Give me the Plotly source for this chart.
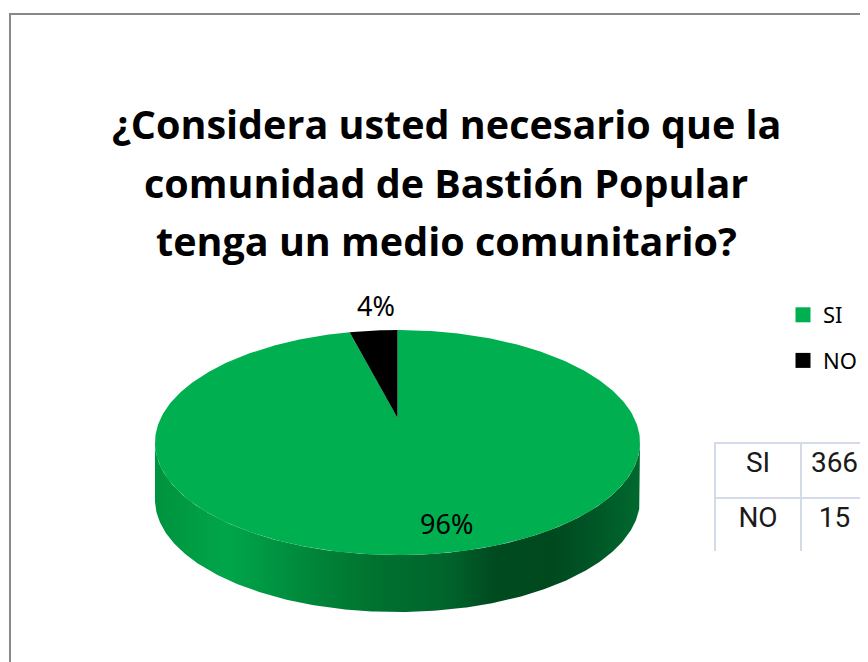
import numpy as np
import plotly.graph_objects as go

# ---- data ----
categories = ["SI", "NO"]
counts = [366, 15]
pct_labels = ["96%", "4%"]
slice_colors = ["#00b050", "#000000"]
title_lines = ["¿Considera usted necesario que la",
               "comunidad de Bastión Popular",
               "tenga un medio comunitario?"]

# page body margin offset: figure drawn at (8,8) in the window
OFF = 8
W, H = 860, 654


def px_x(sx):
    return (sx - OFF) / W


def px_y(sy):
    return 1 - (sy - OFF) / H


# ---- pie geometry (screen pixel space, simple perspective) ----
cx, cy0 = 397.5, 418.0   # centre of the disc (apex of slices)
A, B = 107.2, 236.7      # vertical / horizontal radii factors
k = 0.218                # perspective strength
depth = 57


def proj(t):
    u, v = np.cos(t), np.sin(t)
    d = 1 + k * v
    return cx + B * u / d, cy0 - A * v / d


vals = np.array(counts, dtype=float)
frac = vals / vals.sum()

fig = go.Figure()

# side band (visible front part)
t1, t2 = np.pi + np.arcsin(k), 2 * np.pi - np.arcsin(k)
t = np.linspace(t1, t2, 240)
rxs, rys = proj(t)
sx = np.concatenate([rxs, rxs[::-1]])
sy = np.concatenate([rys, (rys + depth)[::-1]])
fig.add_trace(go.Scatter(
    x=sx, y=sy, mode="lines", fill="toself", line=dict(width=0),
    fillgradient=dict(type="horizontal", colorscale=[
        [0.0, "#00923e"], [0.15, "#00a64a"], [0.30, "#008a3c"],
        [0.45, "#00722f"], [0.60, "#00652c"], [0.70, "#004a20"],
        [0.82, "#00491f"], [0.90, "#005526"], [1.0, "#00692e"]]),
    showlegend=False, hoverinfo="skip"))

# top slices: first slice starts at 12 o'clock, clockwise
start = np.pi / 2
for name, f, col in zip(categories, frac, slice_colors):
    a0, a1 = start, start - 2 * np.pi * f
    tt = np.linspace(a0, a1, max(10, int(400 * f)))
    ax, ay = proj(tt)
    px = np.concatenate([[cx], ax, [cx]])
    py = np.concatenate([[cy0], ay, [cy0]])
    fig.add_trace(go.Scatter(x=px, y=py, mode="lines", fill="toself",
                             fillcolor=col, line=dict(width=0),
                             showlegend=False, name=name, hoverinfo="skip"))
    start = a1

# legend entries
for i, (name, col) in enumerate(zip(categories, slice_colors)):
    fig.add_trace(go.Scatter(x=[None], y=[None], mode="markers", name=name,
                             legendgroup=name,
                             marker=dict(symbol="square", size=15, color=col)))

# percentage labels
fig.add_annotation(x=446, y=523, text=pct_labels[0], showarrow=False,
                   font=dict(family="Noto Sans", size=27, color="#000"))
fig.add_annotation(x=376, y=305, text=pct_labels[1], showarrow=False,
                   font=dict(family="Noto Sans", size=27, color="#000"))

# title
for yy, line in zip([124, 183, 241], title_lines):
    fig.add_annotation(x=446, y=yy, text="<b>" + line + "</b>", showarrow=False,
                       font=dict(family="Open Sans", size=39.5, color="#000"))

# table
tfont = dict(family="Roboto", size=28, color="#1a1a1a")
fig.add_trace(go.Table(
    domain=dict(x=[px_x(715), 1], y=[px_y(552), px_y(443)]),
    columnwidth=[86, 67],
    header=dict(values=[categories[0], str(counts[0])], height=55,
                align="center", fill_color="white",
                line=dict(color="#d3dae8", width=2), font=tfont),
    cells=dict(values=[[categories[1]], [str(counts[1])]], height=55,
               align="center", fill_color="white",
               line=dict(color="#d3dae8", width=2), font=tfont)))

# chart border
fig.add_shape(type="rect", xref="x", yref="y", x0=10, y0=14, x1=900, y1=700,
              line=dict(color="#898989", width=2), fillcolor="rgba(0,0,0,0)", layer="below")

fig.update_layout(
    width=W, height=H, margin=dict(l=0, r=0, t=0, b=0),
    paper_bgcolor="white", plot_bgcolor="white",
    xaxis=dict(range=[OFF, OFF + W], visible=False, fixedrange=True),
    yaxis=dict(range=[OFF + H, OFF], visible=False, fixedrange=True),
    showlegend=True,
    legend=dict(x=px_x(783), y=px_y(294), xanchor="left", yanchor="top",
                tracegroupgap=14, bgcolor="rgba(0,0,0,0)",
                font=dict(family="Noto Sans", size=22, color="#000")),
)

fig.write_html("out.html")
